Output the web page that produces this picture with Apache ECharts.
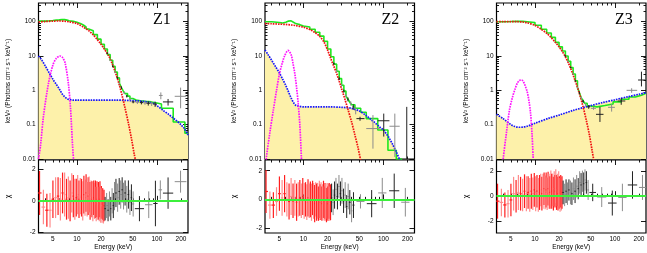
<!DOCTYPE html>
<html><head><meta charset="utf-8">
<script src="https://cdn.jsdelivr.net/npm/echarts@6.0.0/dist/echarts.min.js"></script>
<style>html,body{margin:0;padding:0;background:#fff;}#chart{width:647px;height:253px;}</style>
</head><body><div id="chart"></div>
<script>
// ===== ticks and labels =====
const energyTickLabels = [5, 10, 20, 50, 100, 200];
const energyMajorTicks = [10, 100];
const energyMinorTicks = [4, 5, 6, 7, 8, 9, 20, 30, 40, 50, 60, 70, 80, 90, 200];
const fluxTickLabels = [0.01, 0.1, 1, 10, 100];
const fluxMinorTicks = [0.02,0.03,0.04,0.05,0.06,0.07,0.08,0.09,0.2,0.3,0.4,0.5,0.6,0.7,0.8,0.9,2,3,4,5,6,7,8,9,20,30,40,50,60,70,80,90,200,300];
const chiTickLabels = [-2, 0, 2];
const panelNames = ['Z1', 'Z2', 'Z3'];
const fluxAxisName = 'keV\u00b2 (Photons cm\u207b\u00b2 s\u207b\u00b9 keV\u207b\u00b9)';
const energyAxisName = 'Energy (keV)';
const chiAxisName = '\u03c7';

// ===== Z1 model components =====
const z1RedE = [3.3, 4, 5, 6, 7, 8, 10, 12, 14, 16, 18, 20, 22, 25, 28, 31, 34, 37, 40, 44, 48, 52, 56];
const z1RedV = [98, 101, 104, 105, 103, 99, 88, 70, 55, 41, 30, 22, 16, 10, 5.5, 2.8, 1.4, 0.65, 0.3, 0.11, 0.04, 0.014, 0.006];
const z1BlueE = [3.3, 3.6, 4, 4.5, 5, 5.5, 6, 6.5, 7, 7.5, 8, 9, 10, 15, 20, 30, 40, 50, 60, 70, 80, 90, 100, 120, 140, 160, 180, 200, 220, 245];
const z1BlueV = [10, 7.8, 5.2, 3.2, 2.1, 1.5, 1.1, 0.8, 0.65, 0.57, 0.54, 0.52, 0.52, 0.52, 0.52, 0.52, 0.51, 0.5, 0.49, 0.47, 0.45, 0.42, 0.36, 0.26, 0.2, 0.155, 0.125, 0.1, 0.078, 0.05];
const z1LineE = [3.3, 3.5, 3.8, 4.4, 5.0, 5.5, 6.1, 6.6, 7.1, 7.8, 8.3, 8.8, 9.1];
const z1LineV = [0.01, 0.025, 0.17, 1.6, 5.5, 8.5, 10, 9, 6.3, 1.6, 0.3, 0.025, 0.008];
const z1TotalE = [3.3, 4, 4.5, 5, 5.5, 6, 6.5, 7, 7.5, 8, 9, 10, 11, 12, 13, 14, 16, 18, 20, 22, 24, 26, 28, 30, 32, 34, 36, 38, 40, 43, 46, 50, 55, 62, 72, 85, 100, 114, 160, 224, 245];
const z1TotalV = [104, 106, 108, 111, 113, 115, 115, 111, 107, 102, 96, 89, 80, 70, 61, 54, 42, 31, 22, 16, 11, 7.5, 5, 3.4, 2.3, 1.6, 1.2, 0.95, 0.8, 0.68, 0.58, 0.52, 0.5, 0.48, 0.46, 0.43, 0.4, 0.3, 0.12, 0.056, 0.056];
// Z1 spectral points (high energy)
const z1PtE   = [24, 26, 28, 30, 32, 34, 36, 39, 42, 46, 50.5, 57, 64, 71, 78, 86, 95, 112, 138, 198];
const z1PtLo  = [23.5, 25.5, 27.5, 29.5, 31.5, 33.5, 35.5, 38, 41, 44.5, 48.5, 54, 61, 68, 74, 82, 90, 106, 119, 167];
const z1PtHi  = [24.5, 26.5, 28.5, 30.5, 32.5, 34.5, 36.5, 40, 43, 47.5, 52.5, 60, 67, 74, 82, 90, 100, 118, 160, 234];
const z1PtV   = [12, 7.5, 5, 3.4, 2.3, 1.6, 1.2, 0.85, 0.68, 0.55, 0.46, 0.45, 0.44, 0.43, 0.42, 0.41, 0.4, 0.71, 0.46, 0.67];
const z1PtVLo = [11.5, 7.1, 4.7, 3.2, 2.15, 1.5, 1.1, 0.78, 0.62, 0.5, 0.42, 0.4, 0.39, 0.38, 0.36, 0.35, 0.33, 0.55, 0.36, 0.3];
const z1PtVHi = [12.5, 7.9, 5.3, 3.6, 2.45, 1.7, 1.3, 0.92, 0.74, 0.6, 0.5, 0.5, 0.49, 0.48, 0.48, 0.47, 0.47, 0.87, 0.56, 1.2];

// ===== Z2 model components =====
const z2RedE = [3.3, 4, 5, 6, 7, 8, 10, 12, 14, 16, 18, 20, 22, 24, 26, 28, 30, 33, 36, 40, 44, 48, 52];
const z2RedV = [88, 87, 85, 83, 80, 77, 69, 59, 48, 37, 26, 15, 8.3, 5.0, 3.1, 1.85, 1.1, 0.55, 0.28, 0.12, 0.05, 0.022, 0.009];
const z2BlueE = [3.3, 3.6, 4, 4.5, 5, 5.5, 6, 6.5, 7, 7.5, 8, 9, 10, 15, 20, 30, 40, 50, 60, 70, 80, 90, 100, 115, 130, 145, 165];
const z2BlueV = [15, 11, 7.5, 4.8, 3.2, 2.1, 1.4, 0.9, 0.6, 0.44, 0.37, 0.34, 0.33, 0.33, 0.33, 0.32, 0.3, 0.25, 0.19, 0.14, 0.11, 0.085, 0.07, 0.045, 0.027, 0.016, 0.008];
const z2LineE = [3.3, 3.45, 3.8, 4.2, 4.6, 5.0, 5.4, 5.8, 6.4, 7.0, 7.4, 7.8, 8.2, 8.6, 9.0, 9.4, 9.6];
const z2LineV = [0.004, 0.012, 0.06, 0.27, 1.0, 3.0, 6.0, 10, 14.5, 11, 6, 3, 1.2, 0.4, 0.1, 0.012, 0.004];
const z2TotalE = [3.3, 4, 5, 5.5, 6, 6.5, 7, 7.5, 8, 9, 10, 12, 14, 16, 18, 20, 22, 24, 26, 28, 30, 32, 34, 36, 38, 40, 44, 52, 61, 85, 114, 145, 168];
const z2TotalV = [100, 95, 92, 96, 104, 106, 96, 88, 82, 75, 70, 60, 49, 38, 27, 16, 9.5, 5.8, 3.6, 2.2, 1.4, 0.95, 0.68, 0.55, 0.45, 0.38, 0.3, 0.23, 0.15, 0.07, 0.018, 0.01, 0.005];
const z2PtE   = [24, 26, 28, 30, 32, 34, 36, 39, 42, 45, 51, 74, 101, 139, 196];
const z2PtLo  = [23.5, 25.5, 27.5, 29.5, 31.5, 33.5, 35.5, 38, 41, 43.5, 46, 61, 85, 119, 170];
const z2PtHi  = [24.5, 26.5, 28.5, 30.5, 32.5, 34.5, 36.5, 40, 43, 46.5, 58, 90, 119, 160, 225];
const z2PtV   = [6, 3.6, 2.2, 1.4, 0.95, 0.7, 0.55, 0.42, 0.33, 0.26, 0.15, 0.077, 0.13, 0.09, 0.003];
const z2PtVLo = [5.6, 3.3, 2.0, 1.27, 0.85, 0.62, 0.48, 0.36, 0.27, 0.2, 0.13, 0.02, 0.045, 0.0115, 0.001];
const z2PtVHi = [6.4, 3.9, 2.4, 1.53, 1.05, 0.78, 0.62, 0.48, 0.39, 0.32, 0.17, 0.19, 0.21, 0.21, 0.33];

// ===== Z3 model components =====
const z3RedE = [3.3, 4, 5, 6, 7, 8, 10, 12, 14, 16, 18, 20, 22, 24, 26, 28, 30, 33, 36, 40, 44, 48, 52, 55];
const z3RedV = [100, 101, 101, 100, 98, 93, 78, 60, 46, 34, 25, 18.5, 13.5, 9.5, 6.5, 4.3, 2.8, 1.5, 0.8, 0.33, 0.13, 0.05, 0.017, 0.008];
const z3BlueE = [3.3, 4, 5, 5.5, 6, 6.5, 7, 8, 10, 15, 20, 30, 50, 70, 100, 150, 200, 245];
const z3BlueV = [0.2, 0.15, 0.1, 0.09, 0.085, 0.084, 0.085, 0.09, 0.11, 0.155, 0.19, 0.26, 0.36, 0.44, 0.53, 0.66, 0.77, 0.85];
const z3LineE = [3.9, 4.0, 4.4, 4.8, 5.2, 5.6, 6.0, 6.4, 6.8, 7.2, 7.6, 8.0, 8.4, 8.8, 9.2, 9.5];
const z3LineV = [0.005, 0.01, 0.06, 0.27, 0.6, 1.05, 1.6, 1.95, 2.0, 1.75, 1.3, 0.9, 0.5, 0.22, 0.05, 0.01];
const z3TotalE = [3.3, 4, 5, 6, 7, 8, 10, 12, 14, 16, 18, 20, 22, 24, 26, 28, 30, 32, 34, 36, 38, 40, 42, 45, 50, 60, 75, 95, 120, 150, 180, 215, 245];
const z3TotalV = [100, 101, 102, 102, 100, 94, 79, 60, 47, 35, 25, 18.5, 14, 10, 7, 4.6, 3.0, 1.9, 1.2, 0.85, 0.6, 0.5, 0.42, 0.35, 0.33, 0.36, 0.4, 0.46, 0.55, 0.64, 0.72, 0.82, 0.82];
const z3PtE   = [24, 26, 28, 30, 32, 34, 36, 38, 40, 43, 47, 54, 65, 91, 120, 162, 215];
const z3PtLo  = [23.5, 25.5, 27.5, 29.5, 31.5, 33.5, 35.5, 37.5, 39, 42, 45, 50, 58, 82, 108, 140, 195];
const z3PtHi  = [24.5, 26.5, 28.5, 30.5, 32.5, 34.5, 36.5, 38.5, 41, 44, 49, 58, 72, 100, 135, 190, 240];
const z3PtV   = [10, 7, 4.6, 3.0, 1.9, 1.2, 0.85, 0.6, 0.48, 0.38, 0.33, 0.3, 0.2, 0.32, 0.49, 1.0, 2.0];
const z3PtVLo = [9.6, 6.7, 4.4, 2.85, 1.8, 1.12, 0.78, 0.55, 0.43, 0.34, 0.29, 0.27, 0.12, 0.24, 0.38, 0.85, 1.3];
const z3PtVHi = [10.4, 7.3, 4.8, 3.15, 2.0, 1.28, 0.92, 0.65, 0.53, 0.42, 0.37, 0.33, 0.33, 0.4, 0.6, 1.15, 3.5];

// ===== residuals: low-energy instrument (shared bin edges) =====
const lowBinEdges = [3.2, 3.6, 4.0, 4.4, 4.8, 5.2, 5.6, 6.0, 6.4, 6.8, 7.2, 7.6, 8.0, 8.4, 8.8, 9.2, 9.6, 10.0, 10.4, 10.8, 11.2, 11.6, 12.0, 12.4, 12.8, 13.2, 13.6, 14.0, 14.4, 14.8, 15.2, 15.6, 16.0, 16.4, 16.8, 17.2, 17.6, 18.0, 18.4, 18.8, 19.2, 19.6, 20.0, 20.4, 20.8, 21.2, 21.6, 22.0];
const z1ChiLow = [0.5,-0.4,-0.6,-0.6,0.1,0.2,0.3,0.1,0.5,0.4, 0.1,0.2,0.0,0.5,0.3,0.1,0.2,0.4,0.1,0.3, 0.2,0.0,0.4,0.2,0.5,0.1,0.3,0.4,0.0,0.2, 0.1,-0.1,0.2,0.0,0.1,-0.2,0.1,-0.1,0.0,-0.2, 0.1,-0.3,-0.1,-0.3,-0.2,-0.4,-0.3];
const z1ErrLow = [1.4,1.1,1.05,1.1,1.2,1.3,1.2,1.35,1.3,1.4, 1.3,1.35,1.3,1.25,1.35,1.3,1.2,1.25,1.2,1.15, 1.2,1.25,1.2,1.15,1.2,1.1,1.2,1.15,1.2,1.1, 1.15,1.2,1.1,1.15,1.2,1.1,1.15,1.1,1.2,1.1, 1.15,1.1,1.05,1.1,1.0,1.05,1.0];
const z2ChiLow = [0.55,-0.4,-0.4,-0.15,0.4,0.1,0.4,0.0,-0.15,0.2, -0.1,0.1,-0.2,0.0,0.1,-0.1,0.2,-0.1,0.0,-0.2, 0.1,-0.1,0.0,-0.2,0.1,-0.1,-0.3,0.0,-0.2,-0.1, -0.3,0.0,-0.2,-0.1,-0.3,-0.2,0.0,-0.3,-0.1,-0.2, -0.4,-0.1,-0.3,-0.2,-0.1,-0.3,-0.2];
const z2ErrLow = [1.5,0.95,0.9,1.0,1.2,1.25,1.3,1.2,1.25,1.3, 1.2,1.25,1.3,1.2,1.25,1.2,1.3,1.25,1.2,1.25, 1.3,1.2,1.25,1.3,1.2,1.25,1.3,1.2,1.3,1.25, 1.2,1.3,1.25,1.3,1.2,1.25,1.3,1.2,1.25,1.3, 1.2,1.25,1.2,1.3,1.25,1.2,1.25];
const z3ChiLow = [-0.4,-0.5,-0.7,-0.6,-0.3,0.2,0.0,0.3,0.2,0.1, 0.4,0.2,0.3,0.1,0.4,0.2,0.5,0.2,0.4,0.1, 0.3,0.5,0.2,0.4,0.6,0.3,0.5,0.2,0.6,0.4, 0.3,0.7,0.4,0.5,0.2,0.6,0.4,0.8,0.3,0.5, 0.2,0.6,0.3,0.1,0.4,0.2,0.3];
const z3ErrLow = [1.4,1.1,1.0,1.1,1.3,1.35,1.3,1.4,1.35,1.3, 1.35,1.4,1.3,1.35,1.4,1.3,1.35,1.4,1.3,1.35, 1.4,1.3,1.35,1.4,1.3,1.35,1.4,1.3,1.35,1.4, 1.3,1.35,1.4,1.3,1.35,1.4,1.3,1.35,1.4,1.3, 1.35,1.4,1.3,1.35,1.3,1.35,1.3];

// ===== residuals: high-energy instrument =====
const z1HiLo  = [22, 23, 24, 25, 26, 27, 28, 29, 30, 31.5, 33, 34.5, 36, 37.5, 39, 41, 43, 45, 47, 49, 53, 71, 90, 105, 119, 167];
const z1HiHi  = [23, 24, 25, 26, 27, 28, 29, 30, 31.5, 33, 34.5, 36, 37.5, 39, 41, 43, 45, 47, 49, 52, 69, 88, 102, 116, 160, 234];
const z1HiChi = [-0.5,-0.3,-0.6,-0.2,-0.5,0.0,-0.3,0.3,0.5,0.2, 0.6,0.4,0.7,0.3,0.5,0.1,0.4,-0.1,0.2,-0.2, -0.5,-0.25,-0.17,0.7,0.49,1.22];
const z1HiErr = [0.75,0.8,0.7,0.8,0.75,0.8,0.8,0.9,0.9,0.9, 0.85,0.9,0.8,0.85,0.8,0.85,0.9,0.8,0.85,0.8, 0.8,0.85,1.45,0.6,1.0,0.7];
const z2HiLo  = [22, 23, 24, 25, 26, 27.2, 28.4, 29.6, 31, 32.5, 34, 35.5, 37, 39, 41, 46, 62, 86, 118, 167];
const z2HiHi  = [23, 24, 25, 26, 27.2, 28.4, 29.6, 31, 32.5, 34, 35.5, 37, 39, 41, 43.5, 58, 82, 109, 158, 212];
const z2HiChi = [0.1,-0.2,0.3,0.7,0.2,0.9,0.4,0.6,-0.1,0.3, -0.5,0.2,-0.2,-0.8,-0.4,-0.14,-0.3,0.45,0.6,-0.2];
const z2HiErr = [1.0,0.9,0.95,0.8,0.9,0.8,0.85,0.9,0.85,0.9, 0.8,0.9,0.85,0.8,0.9,0.5,0.95,1.05,1.2,1.0];
const z3HiLo  = [22, 23, 24, 25, 26, 27.2, 28.4, 29.6, 31, 32.5, 34, 35.5, 37, 38.5, 40, 41.5, 43, 45, 48, 60, 82, 110, 145, 200];
const z3HiHi  = [23, 24, 25, 26, 27.2, 28.4, 29.6, 31, 32.5, 34, 35.5, 37, 38.5, 40, 41.5, 43, 45, 47.5, 58, 78, 105, 140, 190, 245];
const z3HiChi = [0.3,0.1,0.4,0.2,0.5,0.3,0.2,0.6,0.4,0.8, 0.6,1.1,0.9,1.2,1.0,1.3,1.1,0.5,0.3,-0.07, -0.55,-0.1,0.9,0.7];
const z3HiErr = [0.95,0.9,0.95,0.9,0.85,0.95,0.9,0.9,0.95,0.9, 0.85,0.9,0.95,0.85,0.9,0.85,0.9,0.8,0.7,0.8, 1.0,1.1,1.1,1.0];

// ===== build =====
const panels = [
  {red:[z1RedE,z1RedV], blue:[z1BlueE,z1BlueV], line:[z1LineE,z1LineV], total:[z1TotalE,z1TotalV],
   pts:[z1PtE,z1PtLo,z1PtHi,z1PtV,z1PtVLo,z1PtVHi], chiLow:[z1ChiLow,z1ErrLow], hi:[z1HiLo,z1HiHi,z1HiChi,z1HiErr]},
  {red:[z2RedE,z2RedV], blue:[z2BlueE,z2BlueV], line:[z2LineE,z2LineV], total:[z2TotalE,z2TotalV],
   pts:[z2PtE,z2PtLo,z2PtHi,z2PtV,z2PtVLo,z2PtVHi], chiLow:[z2ChiLow,z2ErrLow], hi:[z2HiLo,z2HiHi,z2HiChi,z2HiErr]},
  {red:[z3RedE,z3RedV], blue:[z3BlueE,z3BlueV], line:[z3LineE,z3LineV], total:[z3TotalE,z3TotalV],
   pts:[z3PtE,z3PtLo,z3PtHi,z3PtV,z3PtVLo,z3PtVHi], chiLow:[z3ChiLow,z3ErrLow], hi:[z3HiLo,z3HiHi,z3HiChi,z3HiErr]}
];

// layout
const E_MIN = 3.3, E_MAX = 245, F_MIN = 0.01, F_MAX = 350;
const CHI_RANGE = [[-2.05, 2.6], [-2.35, 2.75], [-2.95, 2.9]];
const LEFTS = [38.5, 265, 496.5], GW = 149.5;
const Z_POS = [[153, 12], [381.5, 12], [615, 12]];
const FONT = '"Liberation Sans", Arial, Helvetica, sans-serif';
const tickLine = {color: '#000', width: 0.9};
const fmt = v => String(+Number(v).toPrecision(6));

const grids = [], xAxes = [], yAxes = [], series = [], graphics = [];

function frameAxes(dim, gi, type, min, max, major, minor, labels, nameOpt) {
  const arr = dim === 'x' ? xAxes : yAxes;
  const pos = dim === 'x' ? ['bottom', 'top'] : ['left', 'right'];
  let mainIdx = -1;
  pos.forEach((p, k) => {
    const base = {gridIndex: gi, type, min, max, position: p, axisLine: {show: false},
      splitLine: {show: false}, minorTick: {show: false}, axisPointer: {show: false}};
    const a = Object.assign({}, base, {
      axisTick: {show: true, inside: true, length: 5, lineStyle: tickLine, customValues: major},
      axisLabel: {show: k === 0 && !!labels, customValues: labels || major, formatter: fmt, margin: 3,
                  fontSize: 6.5, color: '#000', fontFamily: FONT}
    });
    if (k === 0 && nameOpt) Object.assign(a, nameOpt);
    arr.push(a);
    if (k === 0) mainIdx = arr.length - 1;
    if (minor) {
      arr.push(Object.assign({}, base, {
        axisTick: {show: true, inside: true, length: 2.5, lineStyle: tickLine, customValues: minor},
        axisLabel: {show: false}
      }));
    }
  });
  return mainIdx;
}

function zip(a, b) { return a.map((v, i) => [v, b[i]]); }

function errBars(xi, yi, data, colorFn, lw, z) {
  return {
    type: 'custom', xAxisIndex: xi, yAxisIndex: yi, clip: true, silent: true, z: z,
    data: data, encode: {x: [0, 1, 2], y: [3, 4, 5]},
    renderItem: function (params, api) {
      const E = api.value(0), lo = api.value(1), hi = api.value(2);
      const v = api.value(3), vlo = api.value(4), vhi = api.value(5);
      const c = api.coord([E, v]);
      const cl = api.coord([lo, v]), ch = api.coord([hi, v]);
      const cvl = api.coord([E, vlo]), cvh = api.coord([E, vhi]);
      const col = colorFn(params.dataIndex);
      return {type: 'group', children: [
        {type: 'line', shape: {x1: cl[0], y1: c[1], x2: ch[0], y2: c[1]}, style: {stroke: col, lineWidth: lw}},
        {type: 'line', shape: {x1: c[0], y1: cvl[1], x2: c[0], y2: cvh[1]}, style: {stroke: col, lineWidth: lw}}
      ]};
    }
  };
}

const nameStyle = {fontSize: 6.5, color: '#000', fontFamily: FONT};

panels.forEach((P, p) => {
  const gTop = grids.length;
  grids.push({left: LEFTS[p], top: 3, width: GW, height: 156, show: true, borderColor: '#000',
              borderWidth: 1.2, backgroundColor: 'transparent', containLabel: false, outerBoundsMode: 'none'});
  const gRes = grids.length;
  grids.push({left: LEFTS[p], top: 160, width: GW, height: 73, show: true, borderColor: '#000',
              borderWidth: 1.2, backgroundColor: 'transparent', containLabel: false, outerBoundsMode: 'none'});

  const xT = frameAxes('x', gTop, 'log', E_MIN, E_MAX, energyMajorTicks, energyMinorTicks, null, null);
  const yT = frameAxes('y', gTop, 'log', F_MIN, F_MAX, fluxTickLabels, fluxMinorTicks, fluxTickLabels,
    {name: fluxAxisName, nameLocation: 'middle', nameRotate: 90, nameGap: 27, nameTextStyle: nameStyle});
  const xR = frameAxes('x', gRes, 'log', E_MIN, E_MAX, energyMajorTicks, energyMinorTicks, energyTickLabels,
    {name: energyAxisName, nameLocation: 'middle', nameGap: 10, nameTextStyle: nameStyle});
  const yR = frameAxes('y', gRes, 'value', CHI_RANGE[p][0], CHI_RANGE[p][1], chiTickLabels, null, chiTickLabels,
    {name: chiAxisName, nameLocation: 'middle', nameRotate: 90, nameGap: 27, nameTextStyle: {fontSize: 7, color: '#000', fontFamily: FONT}});

  const dot = (color, w) => ({color: color, width: w, type: [1.6, 1], cap: 'butt'});
  // yellow area under the continuum component
  series.push({type: 'line', xAxisIndex: xT, yAxisIndex: yT, data: zip(P.blue[0], P.blue[1]), smooth: 0.3,
    symbol: 'none', silent: true, z: 1, lineStyle: {width: 0, opacity: 0},
    areaStyle: {color: '#fdf1aa', opacity: 1, origin: 'start'}});
  // total model (step)
  series.push({type: 'line', xAxisIndex: xT, yAxisIndex: yT, data: zip(P.total[0], P.total[1]), step: 'end',
    symbol: 'none', silent: true, z: 2, lineStyle: {color: '#1ee81e', width: 1.6}});
  // components
  series.push({type: 'line', xAxisIndex: xT, yAxisIndex: yT, data: zip(P.blue[0], P.blue[1]), smooth: 0.3,
    symbol: 'none', silent: true, z: 3, lineStyle: dot('#1515ff', 1.7)});
  series.push({type: 'line', xAxisIndex: xT, yAxisIndex: yT, data: zip(P.line[0], P.line[1]), smooth: 0.3,
    symbol: 'none', silent: true, z: 3, lineStyle: dot('#ff10ff', 1.7)});
  series.push({type: 'line', xAxisIndex: xT, yAxisIndex: yT, data: zip(P.red[0], P.red[1]), smooth: 0.3,
    symbol: 'none', silent: true, z: 4, lineStyle: dot('#f01010', 1.7)});
  // spectral data points
  const pts = P.pts[0].map((e, i) => [e, P.pts[1][i], P.pts[2][i], P.pts[3][i], P.pts[4][i], P.pts[5][i]]);
  series.push(errBars(xT, yT, pts, i => (i % 2 ? '#8c8c8c' : '#222222'), 1, 5));

  // residuals, low-energy instrument
  const low = P.chiLow[0].map((r, i) => {
    const lo = lowBinEdges[i], hi = lowBinEdges[i + 1];
    return [(lo + hi) / 2, lo, hi, r, r - P.chiLow[1][i], r + P.chiLow[1][i]];
  });
  series.push(errBars(xR, yR, low, i => (i % 2 ? '#ff8c8c' : '#ff1e1e'), 1.2, 2));
  // residuals, high-energy instrument
  const hi = P.hi[0].map((lo, i) => {
    const h = P.hi[1][i], r = P.hi[2][i], e = P.hi[3][i];
    return [Math.sqrt(lo * h), lo, h, r, r - e, r + e];
  });
  const hiSeries = errBars(xR, yR, hi, i => (i % 2 ? '#8c8c8c' : '#222222'), 1, 3);
  hiSeries.markLine = {silent: true, symbol: ['none', 'none'], label: {show: false}, animation: false,
    lineStyle: {color: '#3cf03c', width: 2, type: 'solid'}, data: [{yAxis: 0}]};
  series.push(hiSeries);

  graphics.push({type: 'text', left: Z_POS[p][0], top: Z_POS[p][1], z: 100,
    style: {text: panelNames[p], font: '16px "Liberation Serif", "Times New Roman", serif', fill: '#000'}});
});

const chart = echarts.init(document.getElementById('chart'), null, {renderer: 'canvas'});
chart.setOption({
  animation: false,
  backgroundColor: '#fff',
  textStyle: {fontFamily: FONT},
  grid: grids, xAxis: xAxes, yAxis: yAxes, series: series, graphic: graphics
});
</script>
</body></html>
